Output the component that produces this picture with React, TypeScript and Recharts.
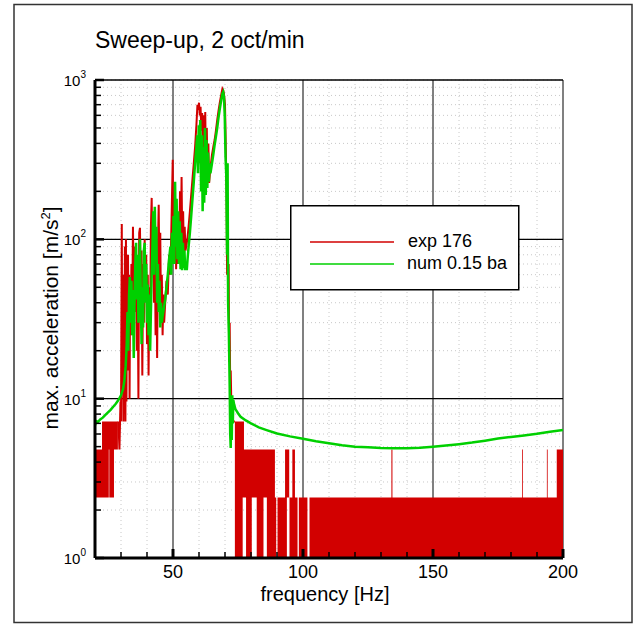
import React from 'react';
import { ComposedChart, Line, Area, XAxis, YAxis, CartesianGrid, ReferenceLine, Legend } from 'recharts';

const FONT = '"Liberation Sans", Arial, Helvetica, sans-serif';

// ---- axes ----
const xTicks = [20, 30, 40, 50, 60, 70, 80, 90, 100, 110, 120, 130, 140, 150, 160, 170, 180, 190, 200];
const xMajorTicks = [50, 100, 150, 200];
const yTicks = [1, 2, 3, 4, 5, 6, 7, 8, 9, 10, 20, 30, 40, 50, 60, 70, 80, 90, 100, 200, 300, 400, 500, 600, 700, 800, 900, 1000];
const yDecades = [1, 10, 100, 1000];
const yDecadeExponents = ['0', '1', '2', '3'];
const xMajorGrid = [50, 100, 150, 200];
const yMajorGrid = [10, 100, 1000];

// ---- series ----
const seriesNames = ['exp 176', 'num 0.15 ba'];
const seriesColors = ['#d20000', '#00d000'];

// experiment, continuous part [frequency Hz, max acceleration m/s^2]
const expCurve: [number, number][] = [
  [29.0, 7.2], [29.4, 4.8], [29.8, 9.6], [30.0, 7.2], [30.3, 125], [30.5, 12], [30.7, 60], [30.9, 7.2],
  [31.1, 40], [31.3, 9.6], [31.5, 90], [31.7, 7.2], [31.9, 100], [32.1, 9.6], [32.3, 45], [32.5, 15],
  [32.7, 80], [32.9, 20], [33.1, 60], [33.3, 10], [33.5, 50], [33.7, 25], [34.0, 70], [34.3, 30],
  [34.6, 120], [34.9, 45], [35.2, 90], [35.5, 35], [35.8, 75], [36.1, 20], [36.4, 60], [36.7, 10],
  [37.0, 110], [37.3, 118], [37.6, 40], [37.9, 85], [38.2, 14], [38.5, 70], [38.8, 30], [39.1, 100],
  [39.4, 45], [39.7, 80], [40.0, 22], [40.3, 60], [40.6, 14], [40.9, 50], [41.2, 30], [41.5, 120],
  [41.8, 182], [42.1, 60], [42.4, 130], [42.7, 40], [43.0, 100], [43.3, 25], [43.6, 70], [43.9, 18],
  [44.2, 90], [44.5, 165], [44.8, 50], [45.1, 110], [45.4, 30], [45.7, 60], [46.0, 25], [46.3, 45],
  [46.6, 30], [47.0, 40], [47.5, 55], [48.0, 45], [48.5, 80], [49.0, 60], [49.5, 150], [49.9, 316],
  [50.1, 80], [50.3, 200], [50.6, 70], [50.9, 180], [51.2, 65], [51.5, 150], [51.8, 70], [52.1, 130],
  [52.4, 80], [52.7, 200], [53.0, 90], [53.3, 246], [53.6, 80], [53.9, 150], [54.2, 75], [54.5, 120],
  [54.8, 85], [55.1, 90], [55.5, 100], [56.0, 120], [56.5, 150], [57.0, 190], [57.5, 240], [58.0, 300],
  [58.5, 380], [59.0, 520], [59.4, 700], [59.7, 650], [60.0, 720], [60.3, 600], [60.6, 680], [60.9, 480],
  [61.2, 620], [61.5, 350], [61.8, 600], [62.1, 280], [62.4, 630], [62.7, 260], [63.0, 500], [63.3, 230],
  [63.6, 400], [63.9, 226], [64.2, 260], [64.6, 300], [65.0, 340], [65.5, 380], [66.0, 420], [66.5, 480],
  [67.0, 560], [67.5, 640], [68.0, 720], [68.5, 800], [69.0, 880], [69.3, 860], [69.6, 820], [70.0, 700],
  [70.3, 380], [70.6, 200], [70.8, 60], [71.0, 110], [71.2, 40], [71.4, 70], [71.6, 17], [71.8, 30],
  [72.0, 12], [72.2, 15], [72.4, 10], [72.6, 8], [72.8, 9.6], [73.0, 7.2], [73.8, 7.2],
];

// experiment, quantised blocks [start frequency, low level, high level]
const expBands: [number, number, number][] = [
  [20.0, 2.4, 4.8], [22.7, 2.4, 7.2], [25.3, 4.8, 7.2], [25.5, 2.4, 7.2], [27.3, 4.8, 7.2], [28.8, 4.8, 4.8],
  [73.8, 1, 7.2], [76.8, 2.4, 7.2], [77.3, 2.4, 4.8], [78.1, 1, 4.8], [80.3, 2.4, 4.8], [82.2, 1, 4.8],
  [84.8, 2.4, 4.8], [86.1, 1, 4.8], [89.2, 1, 2.4], [89.7, 2.4, 2.4], [90.2, 1, 2.4], [93.1, 1, 4.8],
  [93.8, 2.4, 4.8], [94.7, 2.4, 2.4], [94.8, 1, 2.4], [95.9, 1, 4.8], [96.9, 1, 2.4], [97.9, 2.4, 2.4],
  [98.4, 1, 2.4], [101.7, 2.4, 2.4], [102.5, 1, 2.4], [134.0, 1, 4.8], [134.4, 1, 2.4], [184.3, 1, 4.8],
  [184.6, 1, 2.4], [193.8, 1, 4.8], [194.1, 1, 2.4], [197.6, 1, 4.8], [200.0, 1, 4.8],
];

// numerical model
const numCurve: [number, number][] = [
  [20, 6.8], [20.5, 7.2], [21, 7.1], [22, 7.4], [23, 7.6], [24, 7.9], [25, 8.2], [26, 8.5], [27, 8.9],
  [28, 9.3], [29, 9.8], [30, 10.5], [30.8, 11.5], [31.3, 13], [31.8, 16], [32.2, 22], [32.5, 35],
  [32.8, 20], [33.1, 45], [33.4, 58], [33.7, 30], [34.0, 55], [34.3, 25], [34.6, 48], [34.9, 18],
  [35.2, 40], [35.5, 70], [35.8, 95], [36.1, 42], [36.4, 80], [36.7, 30], [37.0, 60], [37.3, 100],
  [37.6, 45], [37.9, 22], [38.2, 50], [38.5, 28], [38.8, 85], [39.1, 95], [39.4, 40], [39.7, 70],
  [40.0, 30], [40.3, 52], [40.6, 25], [40.9, 45], [41.2, 20], [41.5, 35], [41.8, 60], [42.1, 90],
  [42.4, 150], [42.7, 60], [43.0, 160], [43.3, 80], [43.6, 120], [43.9, 40], [44.2, 70], [44.5, 35],
  [44.8, 55], [45.1, 28], [45.4, 40], [45.7, 30], [46.0, 33], [46.5, 37], [47, 42], [47.5, 50],
  [48, 60], [48.5, 75], [49, 90], [49.3, 60], [49.6, 110], [49.9, 70], [50.2, 140], [50.5, 70],
  [50.8, 230], [51.1, 90], [51.4, 180], [51.7, 75], [52.0, 150], [52.3, 70], [52.6, 130], [52.9, 65],
  [53.2, 110], [53.5, 64], [53.8, 95], [54.1, 66], [54.4, 85], [54.7, 64], [55.0, 70], [55.3, 64],
  [55.6, 75], [56, 90], [56.5, 110], [57, 140], [57.5, 180], [58, 230], [58.5, 300], [59, 380],
  [59.3, 450], [59.6, 260], [59.9, 520], [60.2, 300], [60.5, 560], [60.8, 200], [61.1, 450], [61.4, 150],
  [61.7, 380], [62.0, 170], [62.3, 500], [62.6, 190], [62.9, 420], [63.2, 210], [63.5, 350], [63.8, 230],
  [64.1, 300], [64.4, 260], [65, 300], [65.5, 340], [66, 390], [66.5, 440], [67, 500], [67.5, 580],
  [68, 660], [68.5, 740], [69, 820], [69.3, 840], [69.6, 780], [69.9, 600], [70.2, 330], [70.5, 250],
  [70.8, 80], [71.0, 300], [71.2, 40], [71.5, 25], [71.8, 12], [72.0, 6], [72.2, 4.9], [72.4, 9],
  [72.6, 5.5], [72.8, 10.5], [73.0, 7], [73.2, 9.8], [73.5, 9.2], [74, 8.6], [75, 8.1], [76, 7.7],
  [78, 7.3], [80, 7.0], [83, 6.6], [86, 6.35], [90, 6.05], [95, 5.8], [100, 5.6], [105, 5.4],
  [110, 5.25], [115, 5.1], [120, 5.0], [125, 4.95], [130, 4.9], [135, 4.88], [140, 4.88], [145, 4.92],
  [150, 5.0], [155, 5.08], [160, 5.18], [165, 5.3], [170, 5.45], [175, 5.62], [180, 5.75], [185, 5.88],
  [190, 6.02], [195, 6.2], [200, 6.35],
];

const expLineData = expCurve.map(([f, a]) => ({ f, a }));
const expBandData = expBands.map(([f, lo, hi]) => ({ f, r: [lo, hi] }));
const numLineData = numCurve.map(([f, a]) => ({ f, a }));

const YTick = (props: any) => {
  const { x, y, payload } = props;
  const idx = yDecades.indexOf(payload.value);
  const major = idx >= 0;
  return (
    <g>
      <line x1={x} x2={x + (major ? 9 : 6)} y1={y} y2={y} stroke="#000" strokeWidth={major ? 2.5 : 1.5} />
      {major && (
        <text x={x - 9} y={y + 6} textAnchor="end" fontSize={15} fontFamily={FONT} fill="#000">
          10
          <tspan dy={-8} fontSize={10}>{yDecadeExponents[idx]}</tspan>
        </text>
      )}
    </g>
  );
};

const XTick = (props: any) => {
  const { x, y, payload } = props;
  const v = payload.value;
  const major = xMajorTicks.indexOf(v) >= 0;
  if (v === xTicks[0]) return <g />;
  return (
    <g>
      <line x1={x} x2={x} y1={y} y2={y - (major ? 9 : 6)} stroke="#000" strokeWidth={major ? 3 : 1.5} />
      {major && (
        <text x={x} y={y + 20} textAnchor="middle" fontSize={18} fontFamily={FONT} fill="#000">
          {v}
        </text>
      )}
    </g>
  );
};

const LegendBox = () => (
  <svg width={230} height={86} style={{ display: 'block' }}>
    <rect x={0.75} y={0.75} width={228} height={84} fill="#fff" stroke="#000" strokeWidth={1.5} />
    {seriesNames.map((name, i) => (
      <g key={name}>
        <line x1={20} x2={104} y1={37 + i * 22} y2={37 + i * 22} stroke={seriesColors[i]} strokeWidth={1.5} />
        <text x={i === 0 ? 118 : 117} y={42 + i * 22} fontSize={18} fontFamily={FONT} fill="#000">
          {name}
        </text>
      </g>
    ))}
  </svg>
);

export default function App() {
  return (
    <div style={{ position: 'absolute', left: 0, top: 0, width: 644, height: 628, background: '#fff' }}>
      <ComposedChart
        width={644}
        height={628}
        margin={{ top: 80, right: 81, left: 35, bottom: 30 }}
        style={{ fontFamily: FONT }}
      >
        <CartesianGrid stroke="#c8c8c8" strokeDasharray="1 3" strokeWidth={1} />
        <XAxis
          type="number"
          dataKey="f"
          domain={[20, 200]}
          allowDataOverflow
          ticks={xTicks}
          interval={0}
          tick={<XTick />}
          tickLine={false}
          tickSize={0}
          tickMargin={0}
          height={40}
          axisLine={{ stroke: '#000', strokeWidth: 3 }}
        />
        <YAxis
          type="number"
          scale="log"
          domain={[1, 1000]}
          allowDataOverflow
          ticks={yTicks}
          interval={0}
          tick={<YTick />}
          tickLine={false}
          tickSize={0}
          tickMargin={0}
          width={60}
          axisLine={{ stroke: '#000', strokeWidth: 3 }}
        />
        {xMajorGrid.map((v) => (
          <ReferenceLine key={'x' + v} x={v} stroke="#808080" strokeWidth={2} zIndex={-50} />
        ))}
        {yMajorGrid.map((v) => (
          <ReferenceLine key={'y' + v} y={v} stroke="#000" strokeWidth={1.3} zIndex={-50} />
        ))}
        <Area
          data={expBandData}
          dataKey="r"
          type="stepAfter"
          stroke="none"
          fill={seriesColors[0]}
          fillOpacity={1}
          isAnimationActive={false}
          legendType="none"
          name="exp bands"
        />
        <Line
          data={expLineData}
          dataKey="a"
          type="linear"
          stroke={seriesColors[0]}
          strokeWidth={2}
          dot={false}
          isAnimationActive={false}
          name={seriesNames[0]}
        />
        <Line
          data={numLineData}
          dataKey="a"
          type="linear"
          stroke={seriesColors[1]}
          strokeWidth={2.5}
          dot={false}
          isAnimationActive={false}
          name={seriesNames[1]}
        />
        <Legend
          layout="vertical"
          align="center"
          verticalAlign="middle"
          content={<LegendBox />}
          wrapperStyle={{ left: 290, top: 205, width: 230, height: 86 }}
        />
      </ComposedChart>
      <svg
        width={644}
        height={628}
        style={{ position: 'absolute', left: 0, top: 0, pointerEvents: 'none' }}
      >
        <rect x={14} y={4.5} width={618} height={618} fill="none" stroke="#333" strokeWidth={1.5} />
        <text x={95} y={48} fontSize={23} fontFamily={FONT} fill="#000">
          Sweep-up, 2 oct/min
        </text>
        <text x={325} y={601} textAnchor="middle" fontSize={20} fontFamily={FONT} fill="#000">
          frequency [Hz]
        </text>
        <text x={-318} y={58} transform="rotate(-90)" textAnchor="middle" fontSize={21} fontFamily={FONT} fill="#000">
          max. acceleration [m/s
          <tspan dy={-8} fontSize={13}>2</tspan>
          <tspan dy={8}>]</tspan>
        </text>
      </svg>
    </div>
  );
}
